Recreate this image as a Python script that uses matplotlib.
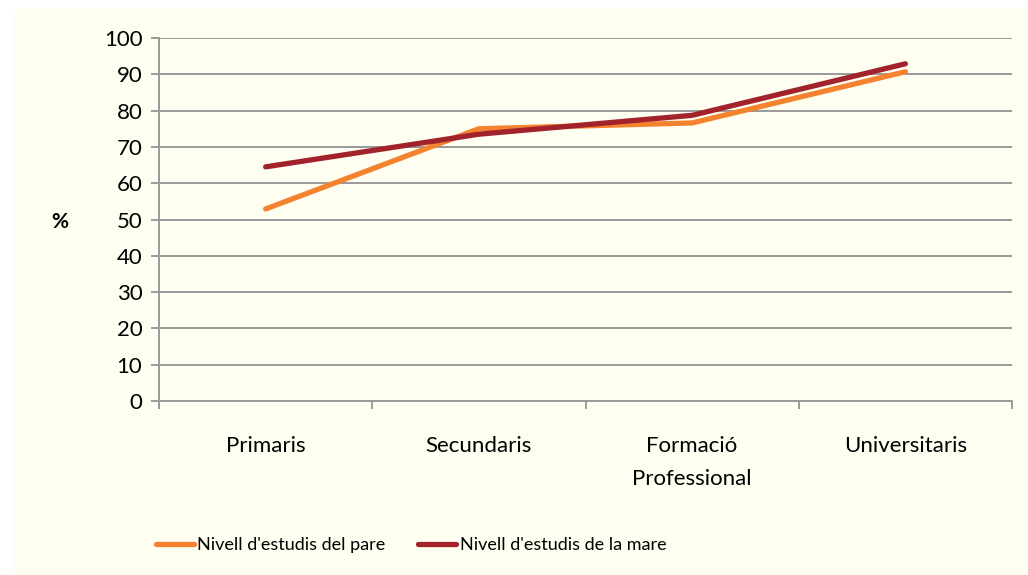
import matplotlib
matplotlib.use('Agg')
import matplotlib.pyplot as plt
from matplotlib.patches import Rectangle

# dades
categories = ['Primaris', 'Secundaris', 'Formació\nProfessional', 'Universitaris']
pare = [52.9, 75.0, 76.6, 90.7]
mare = [64.5, 73.5, 78.7, 92.9]
series_labels = ["Nivell d'estudis del pare", "Nivell d'estudis de la mare"]
yticks = list(range(0, 101, 10))

plt.rcParams['font.family'] = ['Lato', 'DejaVu Sans']

fig = plt.figure(figsize=(10.28, 5.75), dpi=100)
fig.patch.set_facecolor('white')
fig.patches.append(Rectangle((13 / 1028, 0), 1 - 13 / 1028, 1 - 9 / 575,
                             transform=fig.transFigure, facecolor='#FEFEF1',
                             edgecolor='none', zorder=-10))

ax = fig.add_axes([159 / 1028, 1 - 401 / 575, (1012 - 159) / 1028, (401 - 38) / 575])
ax.set_facecolor('none')

x = list(range(len(categories)))
l1, = ax.plot(x, pare, color='#F5822E', lw=3.8, solid_capstyle='round',
              solid_joinstyle='round', label=series_labels[0], zorder=3)
l2, = ax.plot(x, mare, color='#A3232D', lw=3.8, solid_capstyle='round',
              solid_joinstyle='round', label=series_labels[1], zorder=4)

ax.set_xlim(-0.5, len(categories) - 0.5)
ax.set_ylim(0, 100)
ax.set_yticks(yticks)
ax.yaxis.grid(True, color='#9A9A9A', lw=1.4)
ax.set_axisbelow(True)

for s in ['top', 'right']:
    ax.spines[s].set_visible(False)
for s in ['left', 'bottom']:
    ax.spines[s].set_color('#9A9A9A')
    ax.spines[s].set_linewidth(1.4)

ax.tick_params(axis='y', length=6, width=1.4, color='#9A9A9A', labelsize=16, pad=6)
ax.set_xticks(x)
ax.set_xticklabels(categories, fontsize=16, linespacing=1.8, va='top')
ax.set_xticks([i + 0.5 for i in range(-1, len(categories))], minor=True)
ax.tick_params(axis='x', which='major', length=0, pad=25)
ax.tick_params(axis='x', which='minor', length=6, width=1.4, color='#9A9A9A')

fig.text(60 / 1028, 1 - 222 / 575, '%', fontsize=15, fontweight='bold',
         ha='center', va='center')

fig.legend(handles=[l1, l2], loc='center', bbox_to_anchor=(411 / 1028, 1 - 545 / 575),
           ncol=2, frameon=False, fontsize=13, handlelength=2.1,
           handletextpad=0.2, columnspacing=1.8)

fig.savefig('out.png', dpi=100)
